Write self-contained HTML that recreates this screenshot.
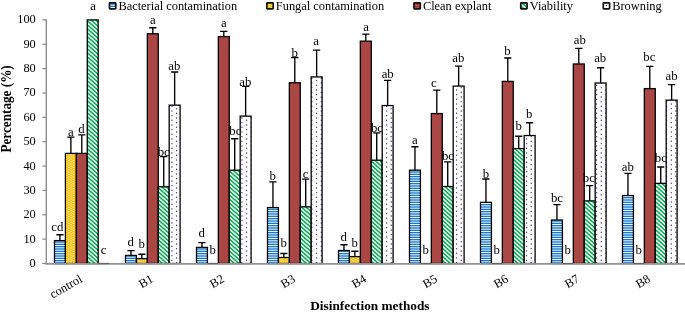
<!DOCTYPE html>
<html><head><meta charset="utf-8"><title>Disinfection methods chart</title>
<style>
html,body{margin:0;padding:0;background:#fff;}
body{width:685px;height:314px;overflow:hidden;}
svg{display:block;will-change:transform;font-family:"Liberation Serif","DejaVu Serif",serif;}
.t{font-size:12.4px;fill:#000;}
.b{font-size:13.2px;font-weight:bold;fill:#000;}
.l{font-size:12.8px;fill:#000;}
.g{font-size:12.4px;fill:#000;}
</style></head><body>
<svg width="685" height="314" viewBox="0 0 685 314">
<defs>
<pattern id="pb" width="4" height="7" patternUnits="userSpaceOnUse" y="1"><rect width="4" height="7" fill="#fff"/><rect y="0.000" width="4" height="1.35" fill="#1478CC"/><rect y="2.333" width="4" height="1.35" fill="#1478CC"/><rect y="4.667" width="4" height="1.35" fill="#1478CC"/></pattern>
<pattern id="py" width="14" height="7" patternUnits="userSpaceOnUse"><rect width="14" height="7" fill="#FFC000"/><g fill="#fff" fill-opacity="0.9"><rect x="0.300" y="0.150" width="1.4" height="0.95"/><rect x="2.633" y="1.317" width="1.4" height="0.95"/><rect x="0.300" y="2.483" width="1.4" height="0.95"/><rect x="2.633" y="3.650" width="1.4" height="0.95"/><rect x="0.300" y="4.817" width="1.4" height="0.95"/><rect x="2.633" y="5.983" width="1.4" height="0.95"/><rect x="4.967" y="0.150" width="1.4" height="0.95"/><rect x="7.300" y="1.317" width="1.4" height="0.95"/><rect x="4.967" y="2.483" width="1.4" height="0.95"/><rect x="7.300" y="3.650" width="1.4" height="0.95"/><rect x="4.967" y="4.817" width="1.4" height="0.95"/><rect x="7.300" y="5.983" width="1.4" height="0.95"/><rect x="9.633" y="0.150" width="1.4" height="0.95"/><rect x="11.967" y="1.317" width="1.4" height="0.95"/><rect x="9.633" y="2.483" width="1.4" height="0.95"/><rect x="11.967" y="3.650" width="1.4" height="0.95"/><rect x="9.633" y="4.817" width="1.4" height="0.95"/><rect x="11.967" y="5.983" width="1.4" height="0.95"/></g></pattern>
<pattern id="pg" width="9" height="8" patternUnits="userSpaceOnUse" x="1" y="0"><rect width="9" height="8" fill="#fff"/><path d="M-27.00 -8.00L0.00 16.00M-22.50 -8.00L4.50 16.00M-18.00 -8.00L9.00 16.00M-13.50 -8.00L13.50 16.00M-9.00 -8.00L18.00 16.00M-4.50 -8.00L22.50 16.00M0.00 -8.00L27.00 16.00M4.50 -8.00L31.50 16.00M9.00 -8.00L36.00 16.00" stroke="#00B050" stroke-width="1.55" fill="none"/></pattern>
<pattern id="pd" width="28" height="14" patternUnits="userSpaceOnUse"><rect width="28" height="14" fill="#fff"/><g fill="#50348A"><circle cx="3.920" cy="3.650" r="0.72"/><circle cx="8.590" cy="1.320" r="0.72"/><circle cx="3.920" cy="8.317" r="0.72"/><circle cx="8.590" cy="5.987" r="0.72"/><circle cx="3.920" cy="12.983" r="0.72"/><circle cx="8.590" cy="10.653" r="0.72"/><circle cx="13.253" cy="3.650" r="0.72"/><circle cx="17.923" cy="1.320" r="0.72"/><circle cx="13.253" cy="8.317" r="0.72"/><circle cx="17.923" cy="5.987" r="0.72"/><circle cx="13.253" cy="12.983" r="0.72"/><circle cx="17.923" cy="10.653" r="0.72"/><circle cx="22.587" cy="3.650" r="0.72"/><circle cx="27.257" cy="1.320" r="0.72"/><circle cx="22.587" cy="8.317" r="0.72"/><circle cx="27.257" cy="5.987" r="0.72"/><circle cx="22.587" cy="12.983" r="0.72"/><circle cx="27.257" cy="10.653" r="0.72"/></g></pattern>
</defs>
<rect width="685" height="314" fill="#fff"/>
<path d="M59.96 240.60V234.76M56.36 234.76H63.56" stroke="#000" stroke-width="1.35" fill="none"/>
<path d="M70.88 153.39V137.07M67.28 137.07H74.48" stroke="#000" stroke-width="1.35" fill="none"/>
<path d="M81.80 153.39V134.88M78.20 134.88H85.40" stroke="#000" stroke-width="1.35" fill="none"/>
<rect x="54.50" y="240.60" width="10.92" height="22.90" fill="url(#pb)" stroke="#000" stroke-width="1.3"/>
<rect x="65.42" y="153.39" width="10.92" height="110.11" fill="url(#py)" stroke="#000" stroke-width="1.3"/>
<rect x="76.34" y="153.39" width="10.92" height="110.11" fill="#AA4643" stroke="#000" stroke-width="1.3"/>
<rect x="87.26" y="19.90" width="10.92" height="243.60" fill="url(#pg)" stroke="#000" stroke-width="1.3"/>
<path d="M130.96 255.46V250.59M127.36 250.59H134.56" stroke="#000" stroke-width="1.35" fill="none"/>
<path d="M141.88 258.63V254.24M138.28 254.24H145.48" stroke="#000" stroke-width="1.35" fill="none"/>
<path d="M152.80 33.79V27.70M149.20 27.70H156.40" stroke="#000" stroke-width="1.35" fill="none"/>
<path d="M163.72 186.77V156.56M160.12 156.56H167.32" stroke="#000" stroke-width="1.35" fill="none"/>
<path d="M174.64 105.16V72.03M171.04 72.03H178.24" stroke="#000" stroke-width="1.35" fill="none"/>
<rect x="125.50" y="255.46" width="10.92" height="8.04" fill="url(#pb)" stroke="#000" stroke-width="1.3"/>
<rect x="136.42" y="258.63" width="10.92" height="4.87" fill="url(#py)" stroke="#000" stroke-width="1.3"/>
<rect x="147.34" y="33.79" width="10.92" height="229.71" fill="#AA4643" stroke="#000" stroke-width="1.3"/>
<rect x="158.26" y="186.77" width="10.92" height="76.73" fill="url(#pg)" stroke="#000" stroke-width="1.3"/>
<rect x="169.18" y="105.16" width="10.92" height="158.34" fill="url(#pd)" stroke="#000" stroke-width="1.3"/>
<path d="M201.96 247.42V242.55M198.36 242.55H205.56" stroke="#000" stroke-width="1.35" fill="none"/>
<path d="M223.80 36.59V31.35M220.20 31.35H227.40" stroke="#000" stroke-width="1.35" fill="none"/>
<path d="M234.72 170.20V138.78M231.12 138.78H238.32" stroke="#000" stroke-width="1.35" fill="none"/>
<path d="M245.64 116.12V86.40M242.04 86.40H249.24" stroke="#000" stroke-width="1.35" fill="none"/>
<rect x="196.50" y="247.42" width="10.92" height="16.08" fill="url(#pb)" stroke="#000" stroke-width="1.3"/>
<rect x="218.34" y="36.59" width="10.92" height="226.91" fill="#AA4643" stroke="#000" stroke-width="1.3"/>
<rect x="229.26" y="170.20" width="10.92" height="93.30" fill="url(#pg)" stroke="#000" stroke-width="1.3"/>
<rect x="240.18" y="116.12" width="10.92" height="147.38" fill="url(#pd)" stroke="#000" stroke-width="1.3"/>
<path d="M272.96 207.59V181.89M269.36 181.89H276.56" stroke="#000" stroke-width="1.35" fill="none"/>
<path d="M283.88 257.51V253.51M280.28 253.51H287.48" stroke="#000" stroke-width="1.35" fill="none"/>
<path d="M294.80 82.75V57.54M291.20 57.54H298.40" stroke="#000" stroke-width="1.35" fill="none"/>
<path d="M305.72 206.86V179.07M302.12 179.07H309.32" stroke="#000" stroke-width="1.35" fill="none"/>
<path d="M316.64 76.90V50.11M313.04 50.11H320.24" stroke="#000" stroke-width="1.35" fill="none"/>
<rect x="267.50" y="207.59" width="10.92" height="55.91" fill="url(#pb)" stroke="#000" stroke-width="1.3"/>
<rect x="278.42" y="257.51" width="10.92" height="5.99" fill="url(#py)" stroke="#000" stroke-width="1.3"/>
<rect x="289.34" y="82.75" width="10.92" height="180.75" fill="#AA4643" stroke="#000" stroke-width="1.3"/>
<rect x="300.26" y="206.86" width="10.92" height="56.64" fill="url(#pg)" stroke="#000" stroke-width="1.3"/>
<rect x="311.18" y="76.90" width="10.92" height="186.60" fill="url(#pd)" stroke="#000" stroke-width="1.3"/>
<path d="M343.96 250.49V244.74M340.36 244.74H347.56" stroke="#000" stroke-width="1.35" fill="none"/>
<path d="M354.88 256.61V251.20M351.28 251.20H358.48" stroke="#000" stroke-width="1.35" fill="none"/>
<path d="M365.80 41.17V34.15M362.20 34.15H369.40" stroke="#000" stroke-width="1.35" fill="none"/>
<path d="M376.72 160.21V132.93M373.12 132.93H380.32" stroke="#000" stroke-width="1.35" fill="none"/>
<path d="M387.64 105.55V80.43M384.04 80.43H391.24" stroke="#000" stroke-width="1.35" fill="none"/>
<rect x="338.50" y="250.49" width="10.92" height="13.01" fill="url(#pb)" stroke="#000" stroke-width="1.3"/>
<rect x="349.42" y="256.61" width="10.92" height="6.89" fill="url(#py)" stroke="#000" stroke-width="1.3"/>
<rect x="360.34" y="41.17" width="10.92" height="222.33" fill="#AA4643" stroke="#000" stroke-width="1.3"/>
<rect x="371.26" y="160.21" width="10.92" height="103.29" fill="url(#pg)" stroke="#000" stroke-width="1.3"/>
<rect x="382.18" y="105.55" width="10.92" height="157.95" fill="url(#pd)" stroke="#000" stroke-width="1.3"/>
<path d="M414.96 170.20V146.72M411.36 146.72H418.56" stroke="#000" stroke-width="1.35" fill="none"/>
<path d="M436.80 113.54V90.06M433.20 90.06H440.40" stroke="#000" stroke-width="1.35" fill="none"/>
<path d="M447.72 186.52V161.92M444.12 161.92H451.32" stroke="#000" stroke-width="1.35" fill="none"/>
<path d="M458.64 86.09V66.18M455.04 66.18H462.24" stroke="#000" stroke-width="1.35" fill="none"/>
<rect x="409.50" y="170.20" width="10.92" height="93.30" fill="url(#pb)" stroke="#000" stroke-width="1.3"/>
<rect x="431.34" y="113.54" width="10.92" height="149.96" fill="#AA4643" stroke="#000" stroke-width="1.3"/>
<rect x="442.26" y="186.52" width="10.92" height="76.98" fill="url(#pg)" stroke="#000" stroke-width="1.3"/>
<rect x="453.18" y="86.09" width="10.92" height="177.41" fill="url(#pd)" stroke="#000" stroke-width="1.3"/>
<path d="M485.96 202.36V178.97M482.36 178.97H489.56" stroke="#000" stroke-width="1.35" fill="none"/>
<path d="M507.80 81.41V58.02M504.20 58.02H511.40" stroke="#000" stroke-width="1.35" fill="none"/>
<path d="M518.72 148.59V136.22M515.12 136.22H522.32" stroke="#000" stroke-width="1.35" fill="none"/>
<path d="M529.64 135.51V122.70M526.04 122.70H533.24" stroke="#000" stroke-width="1.35" fill="none"/>
<rect x="480.50" y="202.36" width="10.92" height="61.14" fill="url(#pb)" stroke="#000" stroke-width="1.3"/>
<rect x="502.34" y="81.41" width="10.92" height="182.09" fill="#AA4643" stroke="#000" stroke-width="1.3"/>
<rect x="513.26" y="148.59" width="10.92" height="114.91" fill="url(#pg)" stroke="#000" stroke-width="1.3"/>
<rect x="524.18" y="135.51" width="10.92" height="127.99" fill="url(#pd)" stroke="#000" stroke-width="1.3"/>
<path d="M556.96 220.04V204.55M553.36 204.55H560.56" stroke="#000" stroke-width="1.35" fill="none"/>
<path d="M578.80 63.99V48.40M575.20 48.40H582.40" stroke="#000" stroke-width="1.35" fill="none"/>
<path d="M589.72 200.89V185.69M586.12 185.69H593.32" stroke="#000" stroke-width="1.35" fill="none"/>
<path d="M600.64 82.99V67.77M597.04 67.77H604.24" stroke="#000" stroke-width="1.35" fill="none"/>
<rect x="551.50" y="220.04" width="10.92" height="43.46" fill="url(#pb)" stroke="#000" stroke-width="1.3"/>
<rect x="573.34" y="63.99" width="10.92" height="199.51" fill="#AA4643" stroke="#000" stroke-width="1.3"/>
<rect x="584.26" y="200.89" width="10.92" height="62.61" fill="url(#pg)" stroke="#000" stroke-width="1.3"/>
<rect x="595.18" y="82.99" width="10.92" height="180.51" fill="url(#pd)" stroke="#000" stroke-width="1.3"/>
<path d="M627.96 195.54V173.37M624.36 173.37H631.56" stroke="#000" stroke-width="1.35" fill="none"/>
<path d="M649.80 88.60V66.43M646.20 66.43H653.40" stroke="#000" stroke-width="1.35" fill="none"/>
<path d="M660.72 183.36V167.03M657.12 167.03H664.32" stroke="#000" stroke-width="1.35" fill="none"/>
<path d="M671.64 100.14V84.58M668.04 84.58H675.24" stroke="#000" stroke-width="1.35" fill="none"/>
<rect x="622.50" y="195.54" width="10.92" height="67.96" fill="url(#pb)" stroke="#000" stroke-width="1.3"/>
<rect x="644.34" y="88.60" width="10.92" height="174.90" fill="#AA4643" stroke="#000" stroke-width="1.3"/>
<rect x="655.26" y="183.36" width="10.92" height="80.14" fill="url(#pg)" stroke="#000" stroke-width="1.3"/>
<rect x="666.18" y="100.14" width="10.92" height="163.36" fill="url(#pd)" stroke="#000" stroke-width="1.3"/>
<path d="M46.3 19.30V264.15" stroke="#868686" stroke-width="1.3" fill="none"/>
<path d="M45.65 263.90H685" stroke="#929292" stroke-width="1.8" fill="none"/>
<path d="M42.4 263.50H46.3" stroke="#868686" stroke-width="1.2"/>
<text class="t" x="35.8" y="267.00" text-anchor="end">0</text>
<path d="M42.4 239.14H46.3" stroke="#868686" stroke-width="1.2"/>
<text class="t" x="35.8" y="242.64" text-anchor="end">10</text>
<path d="M42.4 214.78H46.3" stroke="#868686" stroke-width="1.2"/>
<text class="t" x="35.8" y="218.28" text-anchor="end">20</text>
<path d="M42.4 190.42H46.3" stroke="#868686" stroke-width="1.2"/>
<text class="t" x="35.8" y="193.92" text-anchor="end">30</text>
<path d="M42.4 166.06H46.3" stroke="#868686" stroke-width="1.2"/>
<text class="t" x="35.8" y="169.56" text-anchor="end">40</text>
<path d="M42.4 141.70H46.3" stroke="#868686" stroke-width="1.2"/>
<text class="t" x="35.8" y="145.20" text-anchor="end">50</text>
<path d="M42.4 117.34H46.3" stroke="#868686" stroke-width="1.2"/>
<text class="t" x="35.8" y="120.84" text-anchor="end">60</text>
<path d="M42.4 92.98H46.3" stroke="#868686" stroke-width="1.2"/>
<text class="t" x="35.8" y="96.48" text-anchor="end">70</text>
<path d="M42.4 68.62H46.3" stroke="#868686" stroke-width="1.2"/>
<text class="t" x="35.8" y="72.12" text-anchor="end">80</text>
<path d="M42.4 44.26H46.3" stroke="#868686" stroke-width="1.2"/>
<text class="t" x="35.8" y="47.76" text-anchor="end">90</text>
<path d="M42.4 19.90H46.3" stroke="#868686" stroke-width="1.2"/>
<text class="t" x="35.8" y="23.40" text-anchor="end">100</text>
<path d="M98.18 263.50h10.92" stroke="#666" stroke-width="1.3"/>
<path d="M207.42 263.50h10.92" stroke="#666" stroke-width="1.3"/>
<path d="M420.42 263.50h10.92" stroke="#666" stroke-width="1.3"/>
<path d="M491.42 263.50h10.92" stroke="#666" stroke-width="1.3"/>
<path d="M562.42 263.50h10.92" stroke="#666" stroke-width="1.3"/>
<path d="M633.42 263.50h10.92" stroke="#666" stroke-width="1.3"/>
<text class="l" x="57.40" y="231.10" text-anchor="middle">cd</text>
<text class="l" x="70.90" y="136.30" text-anchor="middle">a</text>
<text class="l" x="81.55" y="132.60" text-anchor="middle">d</text>
<text class="l" x="93.00" y="10.20" text-anchor="middle">a</text>
<text class="l" x="103.50" y="254.20" text-anchor="middle">c</text>
<text class="l" x="130.80" y="245.50" text-anchor="middle">d</text>
<text class="l" x="141.80" y="248.40" text-anchor="middle">b</text>
<text class="l" x="152.80" y="23.50" text-anchor="middle">a</text>
<text class="l" x="163.70" y="155.60" text-anchor="middle">bc</text>
<text class="l" x="174.30" y="69.60" text-anchor="middle">ab</text>
<text class="l" x="201.70" y="237.40" text-anchor="middle">d</text>
<text class="l" x="212.58" y="254.20" text-anchor="middle">b</text>
<text class="l" x="223.80" y="26.80" text-anchor="middle">a</text>
<text class="l" x="235.30" y="134.90" text-anchor="middle">bc</text>
<text class="l" x="245.30" y="86.00" text-anchor="middle">ab</text>
<text class="l" x="272.80" y="180.20" text-anchor="middle">b</text>
<text class="l" x="283.70" y="247.20" text-anchor="middle">b</text>
<text class="l" x="294.70" y="56.60" text-anchor="middle">b</text>
<text class="l" x="305.70" y="177.90" text-anchor="middle">c</text>
<text class="l" x="316.20" y="44.90" text-anchor="middle">a</text>
<text class="l" x="343.80" y="240.70" text-anchor="middle">d</text>
<text class="l" x="354.80" y="246.50" text-anchor="middle">b</text>
<text class="l" x="366.00" y="31.40" text-anchor="middle">a</text>
<text class="l" x="377.00" y="131.70" text-anchor="middle">bc</text>
<text class="l" x="387.70" y="78.10" text-anchor="middle">ab</text>
<text class="l" x="414.95" y="143.90" text-anchor="middle">a</text>
<text class="l" x="425.58" y="254.20" text-anchor="middle">b</text>
<text class="l" x="433.90" y="87.20" text-anchor="middle">c</text>
<text class="l" x="448.00" y="159.60" text-anchor="middle">bc</text>
<text class="l" x="458.40" y="62.00" text-anchor="middle">ab</text>
<text class="l" x="486.00" y="177.85" text-anchor="middle">b</text>
<text class="l" x="496.58" y="254.20" text-anchor="middle">b</text>
<text class="l" x="507.50" y="54.50" text-anchor="middle">b</text>
<text class="l" x="518.70" y="129.90" text-anchor="middle">b</text>
<text class="l" x="529.20" y="118.20" text-anchor="middle">b</text>
<text class="l" x="557.00" y="202.05" text-anchor="middle">bc</text>
<text class="l" x="567.58" y="254.20" text-anchor="middle">b</text>
<text class="l" x="579.90" y="44.20" text-anchor="middle">ab</text>
<text class="l" x="588.80" y="181.70" text-anchor="middle">bc</text>
<text class="l" x="600.20" y="62.40" text-anchor="middle">ab</text>
<text class="l" x="627.80" y="170.50" text-anchor="middle">ab</text>
<text class="l" x="638.58" y="254.20" text-anchor="middle">b</text>
<text class="l" x="649.30" y="60.70" text-anchor="middle">bc</text>
<text class="l" x="660.80" y="162.30" text-anchor="middle">bc</text>
<text class="l" x="671.50" y="80.40" text-anchor="middle">ab</text>
<text class="t" transform="translate(83.20 281.20) rotate(-30)" text-anchor="end">control</text>
<text class="t" transform="translate(154.20 281.20) rotate(-30)" text-anchor="end">B1</text>
<text class="t" transform="translate(225.20 281.20) rotate(-30)" text-anchor="end">B2</text>
<text class="t" transform="translate(296.20 281.20) rotate(-30)" text-anchor="end">B3</text>
<text class="t" transform="translate(367.20 281.20) rotate(-30)" text-anchor="end">B4</text>
<text class="t" transform="translate(438.20 281.20) rotate(-30)" text-anchor="end">B5</text>
<text class="t" transform="translate(509.20 281.20) rotate(-30)" text-anchor="end">B6</text>
<text class="t" transform="translate(580.20 281.20) rotate(-30)" text-anchor="end">B7</text>
<text class="t" transform="translate(651.20 281.20) rotate(-30)" text-anchor="end">B8</text>
<text class="b" x="369.9" y="309.9" text-anchor="middle" style="font-size:13.3px">Disinfection methods</text>
<text class="b" transform="translate(11.2 108.9) rotate(-90) scale(1,1.07)" text-anchor="middle">Percentage (%)</text>
<rect x="109.45" y="2.8" width="6.35" height="6.15" rx="0.6" fill="url(#pb)" stroke="#111" stroke-width="1.7"/>
<text class="g" x="118.40" y="10.05">Bacterial contamination</text>
<rect x="266.85" y="2.8" width="6.35" height="6.15" rx="0.6" fill="url(#py)" stroke="#111" stroke-width="1.7"/>
<text class="g" x="275.80" y="10.05">Fungal contamination</text>
<rect x="413.95" y="2.8" width="6.35" height="6.15" rx="0.6" fill="#AA4643" stroke="#111" stroke-width="1.7"/>
<text class="g" x="422.90" y="10.05">Clean explant</text>
<rect x="520.75" y="2.8" width="6.35" height="6.15" rx="0.6" fill="url(#pg)" stroke="#111" stroke-width="1.7"/>
<text class="g" x="529.70" y="10.05">Viability</text>
<rect x="603.25" y="2.8" width="6.35" height="6.15" rx="0.6" fill="#fff" stroke="#111" stroke-width="1.7"/>
<circle cx="606.30" cy="5.6" r="0.75" fill="#50348A"/>
<text class="g" x="612.20" y="10.05">Browning</text>
</svg></body></html>
